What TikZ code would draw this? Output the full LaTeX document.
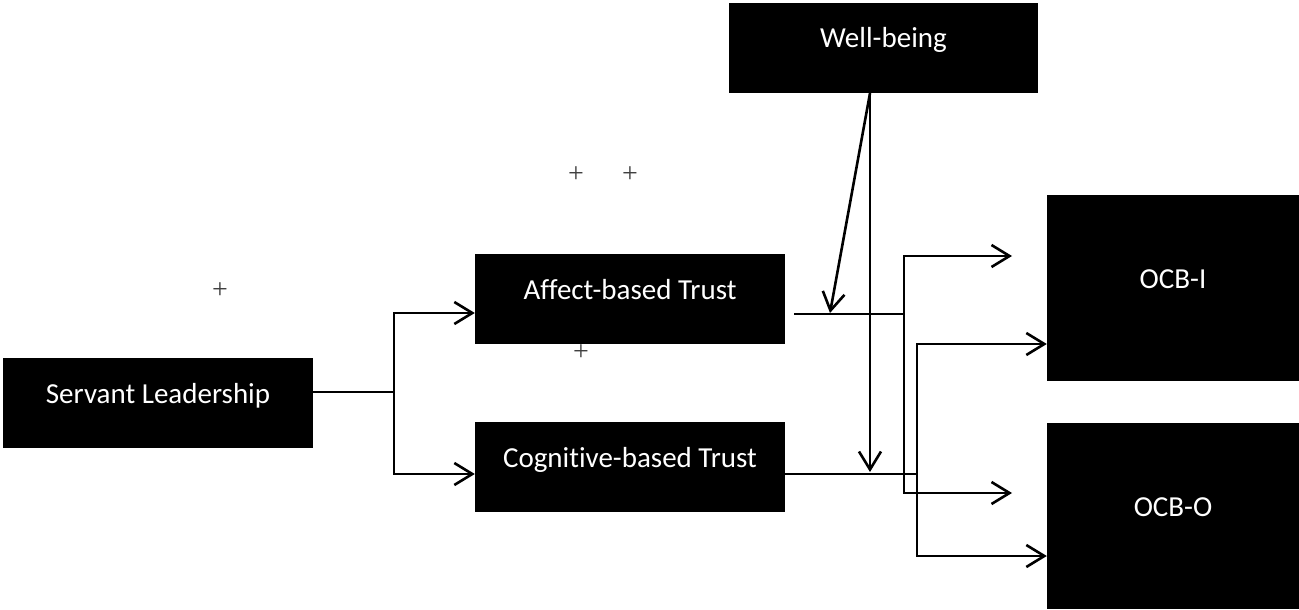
\documentclass[tikz,border=0pt]{standalone}
\usepackage{fontspec}
\setmainfont{Carlito}[Ligatures=NoCommon]
\newfontfamily\plusfont{Liberation Serif}
\usetikzlibrary{arrows.meta}
\begin{document}
\begin{tikzpicture}[x=1pt,y=-1pt,
  box/.style={fill=black,text=white,draw=none,inner sep=0pt,
    font=\fontsize{29}{34}\selectfont,text height=14pt,text depth=14pt},
  line/.style={line width=2.6pt},
  arr/.style={line width=2.6pt,-{Straight Barb[length=18pt,width=22pt]}},
  plus/.style={text=black!75,font=\plusfont\fontsize{28}{32}\selectfont,inner sep=0pt}]
\useasboundingbox (0,0) rectangle (1299,610);
% boxes
\node[box,minimum width=309pt,minimum height=90pt] (wb) at (883.5,48) {Well-being};
\node[box,minimum width=310pt,minimum height=90pt] (sl) at (158,403) {Servant Leadership};
\node[box,minimum width=310pt,minimum height=90pt] (at) at (630,299) {Affect-based Trust};
\node[box,minimum width=310pt,minimum height=90pt] (ct) at (630,467) {Cognitive-based Trust};
\node[box,minimum width=252pt,minimum height=186pt] (ocbi) at (1173,288) {OCB-I};
\node[box,minimum width=252pt,minimum height=186pt] (ocbo) at (1173,516) {OCB-O};
% plus signs
\node[plus] (p1) at (220,291) {+};
\node[plus] (p2) at (576,175) {+};
\node[plus] (p3) at (630,175) {+};
\node[plus] (p4) at (581,353) {+};
% connector points
\coordinate (slo) at ([yshift=11pt]sl.east);
\coordinate (j1) at (394,392);
\coordinate (ati) at ([yshift=-14pt]at.west);
\coordinate (cti) at ([yshift=-7pt]ct.west);
\coordinate (wbo) at ([xshift=-13.5pt]wb.south);
\coordinate (m1) at (830,313);
\coordinate (m2) at (870,472);
\coordinate (ato) at ([xshift=9pt,yshift=-15pt]at.east);
\coordinate (j2) at (904,314);
\coordinate (t1) at (1012,256);
\coordinate (t2) at (1012,493);
\coordinate (cto) at ([yshift=-7pt]ct.east);
\coordinate (j3) at (917,474);
\coordinate (u1) at ([yshift=-56pt]ocbi.west);
\coordinate (u2) at ([yshift=-40pt]ocbo.west);
% connectors
\draw[line] (slo) -- (j1);
\draw[arr] (j1) |- (ati);
\draw[arr] (j1) |- (cti);
\draw[arr] (wbo) -- (m1);
\draw[arr] (wbo) -- (m2);
\draw[line] (ato) -- (j2);
\draw[arr] (j2) |- (t1);
\draw[arr] (j2) |- (t2);
\draw[line] (cto) -- (j3);
\draw[arr] (j3) |- (u1);
\draw[arr] (j3) |- (u2);
\end{tikzpicture}
\end{document}
